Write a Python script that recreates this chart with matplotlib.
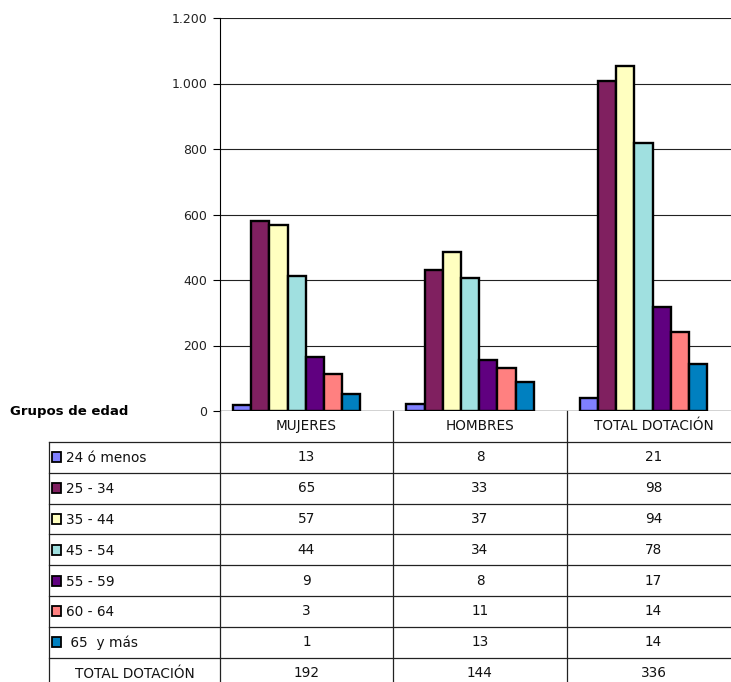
import numpy as np
import matplotlib
matplotlib.use("Agg")
import matplotlib.pyplot as plt
from matplotlib.patches import Rectangle
from matplotlib.ticker import FuncFormatter

# categorias y grupos de edad
categorias = ["MUJERES", "HOMBRES", "TOTAL DOTACIÓN"]
grupos = ["24 ó menos", "25 - 34", "35 - 44", "45 - 54", "55 - 59", "60 - 64", " 65  y más"]
colores = ["#8080FF", "#802060", "#FFFFC0", "#A0E0E0", "#600080", "#FF8080", "#0080C0"]

# alturas de las barras
barras_mujeres = [17, 580, 567, 411, 164, 113, 53]
barras_hombres = [22, 432, 484, 406, 155, 130, 89]
barras_total = [41, 1009, 1052, 817, 319, 241, 143]

# valores de la tabla
tabla_mujeres = [13, 65, 57, 44, 9, 3, 1]
tabla_hombres = [8, 33, 37, 34, 8, 11, 13]
tabla_total = [21, 98, 94, 78, 17, 14, 14]
fila_total = ["TOTAL DOTACIÓN", 192, 144, 336]

W, H = 731, 682
fig = plt.figure(figsize=(W / 100, H / 100), dpi=100)

# pixel -> fraccion de figura
def fx(x):
    return x / W
def fy(y):
    return 1 - y / H

x0, x1 = 220, 740
ytop, ybot = 18, 411
ax = fig.add_axes([fx(x0), fy(ybot), fx(x1) - fx(x0), fy(ytop) - fy(ybot)])

barras = np.array([barras_mujeres, barras_hombres, barras_total])
nb = len(grupos)
ancho = 0.105
centro = np.arange(len(categorias)) + 0.443
for j in range(nb):
    xs = centro + (j - (nb - 1) / 2) * ancho
    ax.bar(xs, barras[:, j], width=ancho, color=colores[j],
           edgecolor="black", linewidth=1.7, zorder=3)

ax.set_xlim(0, 3)
ax.set_ylim(0, 1200)
ax.set_yticks(np.arange(0, 1201, 200))
ax.yaxis.set_major_formatter(FuncFormatter(lambda v, p: f"{v:,.0f}".replace(",", ".")))
ax.tick_params(axis="y", direction="out", length=5, width=0.8, labelsize=9,
               pad=4, labelcolor="#222222")
ax.set_xticks([])
ax.grid(axis="y", color="#222222", linewidth=0.8, zorder=0)
for s in ["top", "right", "bottom"]:
    ax.spines[s].set_visible(False)
ax.spines["left"].set_linewidth(0.8)
ax.axhline(0, color="black", linewidth=0.9, zorder=4)

# tabla de datos debajo
tab = fig.add_axes([0, 0, 1, 1])
tab.set_xlim(0, W)
tab.set_ylim(H, 0)
tab.axis("off")

lc = "#222222"
lw = 0.9
fs = 9.8
xleft = 49
xcols = [220, 393, 567, 740]
yhead = 442
rowh = 30.8
nrows = nb + 1
ybottom = yhead + nrows * rowh

# cabecera
for xc in xcols:
    tab.plot([xc, xc], [ybot, yhead], color=lc, lw=lw)
for i, cat in enumerate(categorias):
    tab.text((xcols[i] + xcols[i + 1]) / 2, 426, cat, ha="center", va="center",
             fontsize=fs, color="#111111")

# lineas de la tabla
for r in range(nrows + 1):
    y = yhead + r * rowh
    tab.plot([xleft, xcols[-1]], [y, y], color=lc, lw=lw)
for xc in [xleft] + xcols:
    tab.plot([xc, xc], [yhead, ybottom], color=lc, lw=lw)

cols = [tabla_mujeres, tabla_hombres, tabla_total]
for r in range(nb):
    yc = yhead + (r + 0.5) * rowh
    tab.add_patch(Rectangle((52, yc - 5), 9, 10, facecolor=colores[r],
                            edgecolor="black", linewidth=1.3))
    tab.text(66, yc + 1, grupos[r], ha="left", va="center", fontsize=fs, color="#111111")
    for c in range(3):
        tab.text((xcols[c] + xcols[c + 1]) / 2, yc, str(cols[c][r]),
                 ha="center", va="center", fontsize=fs, color="#111111")

yc = yhead + (nb + 0.5) * rowh
tab.text((xleft + xcols[0]) / 2, yc + 1, fila_total[0], ha="center", va="center",
         fontsize=fs, color="#111111")
for c in range(3):
    tab.text((xcols[c] + xcols[c + 1]) / 2, yc, str(fila_total[c + 1]),
             ha="center", va="center", fontsize=fs, color="#111111")

tab.text(10, 412, "Grupos de edad", ha="left", va="center", fontsize=9.5,
         fontweight="bold")

fig.savefig("out.png", dpi=100)
